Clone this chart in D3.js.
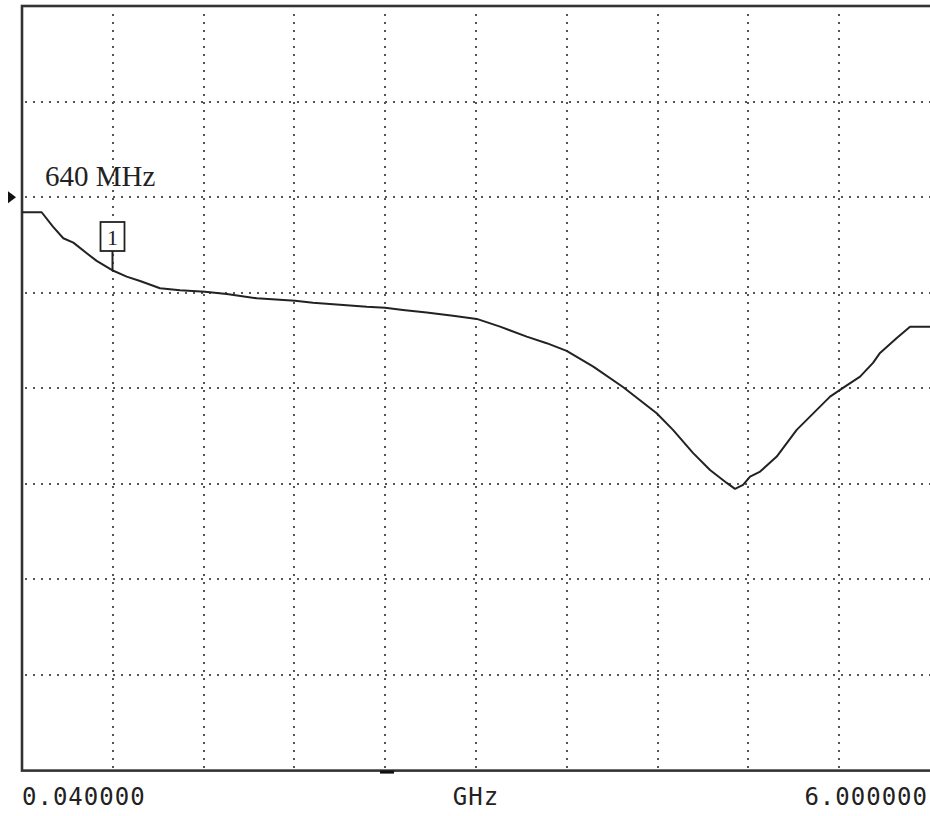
<!DOCTYPE html>
<html>
<head>
<meta charset="utf-8">
<script src="https://cdn.jsdelivr.net/npm/d3@7"></script>
<style>
  html, body { margin: 0; padding: 0; background: #fff; }
  svg { display: block; }
</style>
</head>
<body>
<div id="chart"></div>
<script>
// ---------- DATA ----------
const freqGHz = [
  0.04, 0.169, 0.243, 0.311, 0.377, 0.465, 0.530, 0.629, 0.727, 0.815,
  0.946, 1.077, 1.241, 1.384, 1.581, 1.832, 1.950, 2.127, 2.303, 2.423,
  2.541, 2.696, 2.869, 3.025, 3.178, 3.353, 3.484, 3.615, 3.790, 3.987,
  4.206, 4.313, 4.444, 4.556, 4.666, 4.720, 4.773, 4.819, 4.885, 4.994,
  5.125, 5.344, 5.429, 5.541, 5.626, 5.672, 5.782, 5.869, 6.0
];
const levelDb = [
  -1.58, -1.58, -3.09, -4.30, -4.76, -5.87, -6.67, -7.62, -8.32, -8.77,
  -9.53, -9.74, -9.89, -10.13, -10.58, -10.83, -11.04, -11.25, -11.46, -11.56,
  -11.80, -12.08, -12.40, -12.74, -13.55, -14.59, -15.28, -16.09, -17.73, -19.89,
  -22.61, -24.35, -26.76, -28.54, -29.90, -30.52, -30.10, -29.24, -28.71, -27.14,
  -24.35, -20.87, -19.96, -18.78, -17.34, -16.30, -14.73, -13.55, -13.55
];
const startLabel = "0.040000";
const stopLabel = "6.000000";
const unitLabel = "GHz";
const markerFreq = 0.64;
const markerLabel = "640 MHz";
const markerNum = "1";
const refLevel = 0;
const xDomain = [0.04, 6.0];
const yDomain = [-60, 20];
const xDivs = 10;
const yDivs = 8;
const centerMark = 2.436;

// ---------- LAYOUT ----------
const width = 930;
const height = 816;
const plot = { left: 22, top: 6, right: 930, bottom: 770.6 };

const svg = d3.select("#chart")
  .append("svg")
  .attr("width", width)
  .attr("height", height);

const xScale = d3.scaleLinear().domain(xDomain).range([plot.left, plot.right]);
const yScale = d3.scaleLinear().domain(yDomain).range([plot.bottom, plot.top]);

// grid
const xStep = (xDomain[1] - xDomain[0]) / xDivs;
const yStep = (yDomain[1] - yDomain[0]) / yDivs;
const xGrid = d3.range(1, xDivs).map((i) => xDomain[0] + i * xStep);
const yGrid = d3.range(1, yDivs).map((i) => yDomain[0] + i * yStep);

const gridG = svg.append("g")
  .attr("stroke", "#555")
  .attr("stroke-width", 2)
  .attr("stroke-dasharray", "2,6");

gridG.selectAll(".vgrid")
  .data(xGrid)
  .enter()
  .append("line")
  .attr("x1", (d) => Math.round(xScale(d)))
  .attr("x2", (d) => Math.round(xScale(d)))
  .attr("y1", plot.top + 8)
  .attr("y2", plot.bottom);

gridG.selectAll(".hgrid")
  .data(yGrid)
  .enter()
  .append("line")
  .attr("y1", (d) => Math.round(yScale(d)))
  .attr("y2", (d) => Math.round(yScale(d)))
  .attr("x1", plot.left + 3)
  .attr("x2", plot.right);

// frame
svg.append("rect")
  .attr("x", plot.left)
  .attr("y", plot.top)
  .attr("width", plot.right - plot.left + 4)
  .attr("height", plot.bottom - plot.top)
  .attr("fill", "none")
  .attr("stroke", "#333")
  .attr("stroke-width", 2.6);

// trace
const line = d3.line()
  .x((d) => xScale(d[0]))
  .y((d) => yScale(d[1]));

svg.append("path")
  .datum(d3.zip(freqGHz, levelDb))
  .attr("d", line)
  .attr("fill", "none")
  .attr("stroke", "#222")
  .attr("stroke-width", 2)
  .attr("stroke-linejoin", "round");

// reference level arrow
const refY = yScale(refLevel);
svg.append("path")
  .attr("d", `M8,${refY - 6} L16,${refY} L8,${refY + 6} Z`)
  .attr("fill", "#111");

// marker
const mx = Math.round(xScale(markerFreq)) - 0.5;
const traceAtMarker = levelDb[d3.bisectLeft(freqGHz, markerFreq) - 1];
svg.append("line")
  .attr("x1", mx).attr("x2", mx)
  .attr("y1", 251).attr("y2", yScale(traceAtMarker))
  .attr("stroke", "#222")
  .attr("stroke-width", 2);
svg.append("rect")
  .attr("x", mx - 12).attr("y", 222)
  .attr("width", 24).attr("height", 29)
  .attr("fill", "#fff")
  .attr("stroke", "#222")
  .attr("stroke-width", 1.8);
svg.append("text")
  .attr("x", mx).attr("y", 245)
  .attr("text-anchor", "middle")
  .attr("font-family", "Liberation Serif, serif")
  .attr("font-size", 22)
  .attr("fill", "#222")
  .text(markerNum);

svg.append("text")
  .attr("x", 45).attr("y", 186)
  .attr("font-family", "Liberation Serif, serif")
  .attr("font-size", 29)
  .attr("fill", "#222")
  .text(markerLabel);

// center mark under frame
svg.append("rect")
  .attr("x", xScale(centerMark) - 7)
  .attr("y", plot.bottom)
  .attr("width", 14)
  .attr("height", 3)
  .attr("fill", "#111");

// bottom labels
const labelG = svg.append("g")
  .attr("font-family", "DejaVu Sans Mono, monospace")
  .attr("font-size", 24)
  .attr("letter-spacing", 1)
  .attr("fill", "#222");

labelG.append("text")
  .attr("x", 22).attr("y", 805)
  .text(startLabel);
labelG.append("text")
  .attr("x", (plot.left + plot.right) / 2).attr("y", 805)
  .attr("text-anchor", "middle")
  .text(unitLabel);
labelG.append("text")
  .attr("x", 928).attr("y", 805)
  .attr("text-anchor", "end")
  .text(stopLabel);
</script>
</body>
</html>
